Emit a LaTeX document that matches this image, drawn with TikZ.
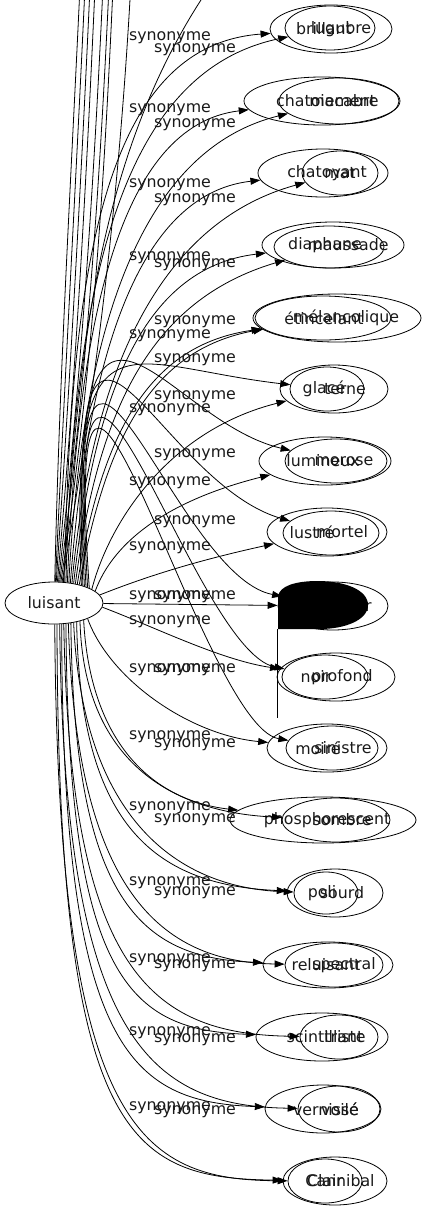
\documentclass[tikz,border=0pt]{standalone}
\usepackage{fontspec}
\setmainfont{DejaVu Sans}
\usetikzlibrary{shapes.geometric,arrows.meta}
\begin{document}
\begin{tikzpicture}[x=1pt,y=-1pt,
  ell/.style={draw, ellipse, inner sep=0pt, line width=0.8pt},
  wtxt/.style={inner sep=0pt, text=black!90, font=\fontsize{15.8}{18}\selectfont},
  syn/.style={wtxt},
  edge/.style={draw, line width=0.8pt, -{Triangle[length=10pt,width=7pt]}},
  edge0/.style={draw, line width=0.8pt}]
\useasboundingbox (0,0) rectangle (423,1211);
\clip (0,0) rectangle (423,1211);

% source node
\node[ell, wtxt, minimum width=98pt, minimum height=42pt] (lu) at (54,603) {luisant};

% target ellipses
\foreach \n/\x/\y/\w/\h in {
  a1/331/29/122/48, b1/330/28/90/44,
  a2/322/101/156/48, b2/339/101/120/46,
  a3/323/173/130/48, b3/340/173/76/44,
  a4/329/247/110/42, b4/333/245/142/46,
  a5/323/318/136/44, b5/337/318/168/48,
  a6/327/389/74/44, b6/334/389/108/48,
  a7/325/461/132/48, b7/336/461/102/44,
  a8/327/532/120/48, b8/331/533/96/44,
  a9/333/606/110/48,
  a10/336/677/118/48, b10/325/677/86/44,
  a11/327/748/120/48, b11/332/748/92/44,
  a12/323/820/186/46, b12/336/820/108/44,
  a13/335/893/96/48, b13/326/893/64/42,
  a14/328/965/130/46, b14/334/965/98/44,
  a15/322/1037/132/48, b15/339/1037/78/44,
  a16/323/1109/116/48, b16/339/1109/82/46,
  a17/335/1181/104/48, b17/325/1181/74/44}
  \node[ell, minimum width=\w pt, minimum height=\h pt] (\n) at (\x,\y) {};

% words
\foreach \n/\x/\y/\s in {
  ta1/324/29/brillant, tb1/341/29/lugubre,
  ta2/326/101/chatoiement, tb2/344/101/macabre,
  ta3/327/173/chatoyant, tb3/340/173/mat,
  ta4/325/245/diaphane, tb4/348/245/maussade,
  ta5/324/318/étincelant, tb5/346/318/mélancolique,
  ta6/324/389/glacé, tb6/345/389/terne,
  ta7/323/461/lumineux, tb7/344/461/morose,
  ta8/312/532/lustré, tb8/342/532/mortel,
  ta9/345/606/obscur,
  ta10/342/677/profond, tb10/316/677/noir,
  ta11/318/748/moiré, tb11/343/748/sinistre,
  ta12/327/820/phosphorescent, tb12/342/820/sombre,
  ta13/342/893/sourd, tb13/322/893/poli,
  ta14/326/965/reluisant, tb14/344/965/spectral,
  ta15/325/1037/scintillant, tb15/345/1037/triste,
  ta16/326/1109/vernissé, tb16/340/1109/voilé,
  ta17/340/1181/Cannibal, tb17/325/1181/Clair}
  \node[wtxt] (\n) at (\x,\y) {\s};

% edges leaving the picture at the top
\foreach \k/\an/\sx/\xe in {1/88/60/77, 2/86/66/82, 3/84/72/87, 4/81/78/92,
    5/78/84/100, 6/75/90/106, 7/72/96/110, 8/69/102/128} {
  \coordinate (o\k) at ({\xe+6},-80);
  \draw[edge0] (lu.\an) .. controls (\sx,350) and ({\xe-4},150) .. (o\k);
}
\coordinate (o9) at (245,-60);
\draw[edge0] (lu.66) .. controls (80,350) and (95,120) .. (o9);

% edges to the target ellipses
\foreach \an/\t/\ax/\ay/\bx/\by in {
  63/a1/70/250/110/45, 60/b1/74/260/130/70,
  57/a2/78/320/120/125, 54/b2/82/330/140/150,
  51/a3/86/380/130/195, 48/b3/90/390/150/225,
  45/b4/94/400/140/268, 42/a4/98/410/150/300,
  39/b5/102/430/150/345, 36/a5/106/440/150/350,
  33/a6/70/300/120/365, 20/b6/110/520/170/430,
  31/b7/68/200/160/420, 16/a7/114/540/170/500,
  29/b8/66/190/150/480, 10/a8/150/575/200/560,
  27/a9/64/180/170/575,
  -5/a10/150/625/220/660, 25/b10/62/170/190/650,
  -25/a11/110/680/190/735, 23/b11/60/160/200/725,
  -30/a12/90/740/150/800, -35/b12/84/760/170/812,
  -40/a13/80/820/150/885, -45/b13/82/810/170/888,
  -50/a14/74/900/140/958, -55/b14/76/890/160/962,
  -60/a15/68/980/130/1030, -65/b15/70/970/150/1034,
  -70/a16/62/1050/130/1102, -75/b16/64/1040/150/1106,
  -82/a17/58/1140/130/1178, -88/b17/58/1130/140/1180}
  \draw[edge] (lu.\an) .. controls (\ax,\ay) and (\bx,\by) .. (\t);
\draw[edge] (lu) -- (a9);

% black filled shape over the ninth node
\fill[black] (278,629) -- (278,596) .. controls (280,586) and (295,581) .. (318,581)
  .. controls (345,581) and (368,590) .. (368,605)
  .. controls (368,620) and (345,629) .. (320,629) -- cycle;
\draw[line width=0.8pt] (277,629) -- (277,718);

% edge labels
\foreach \x/\y [count=\i] in {170/38, 195/50, 170/110, 195/125, 170/185, 195/200,
  170/258, 195/265, 195/322, 170/336, 195/360, 195/397, 170/410, 195/455,
  170/483, 195/522, 170/548, 170/597, 195/597, 170/622, 170/670, 195/670,
  170/737, 195/745, 170/808, 195/820, 170/883, 195/893, 170/960, 195/966,
  170/1033, 195/1040, 170/1108, 195/1112}
  \node[syn] (l\i) at (\x,\y) {synonyme};
\end{tikzpicture}
\end{document}
